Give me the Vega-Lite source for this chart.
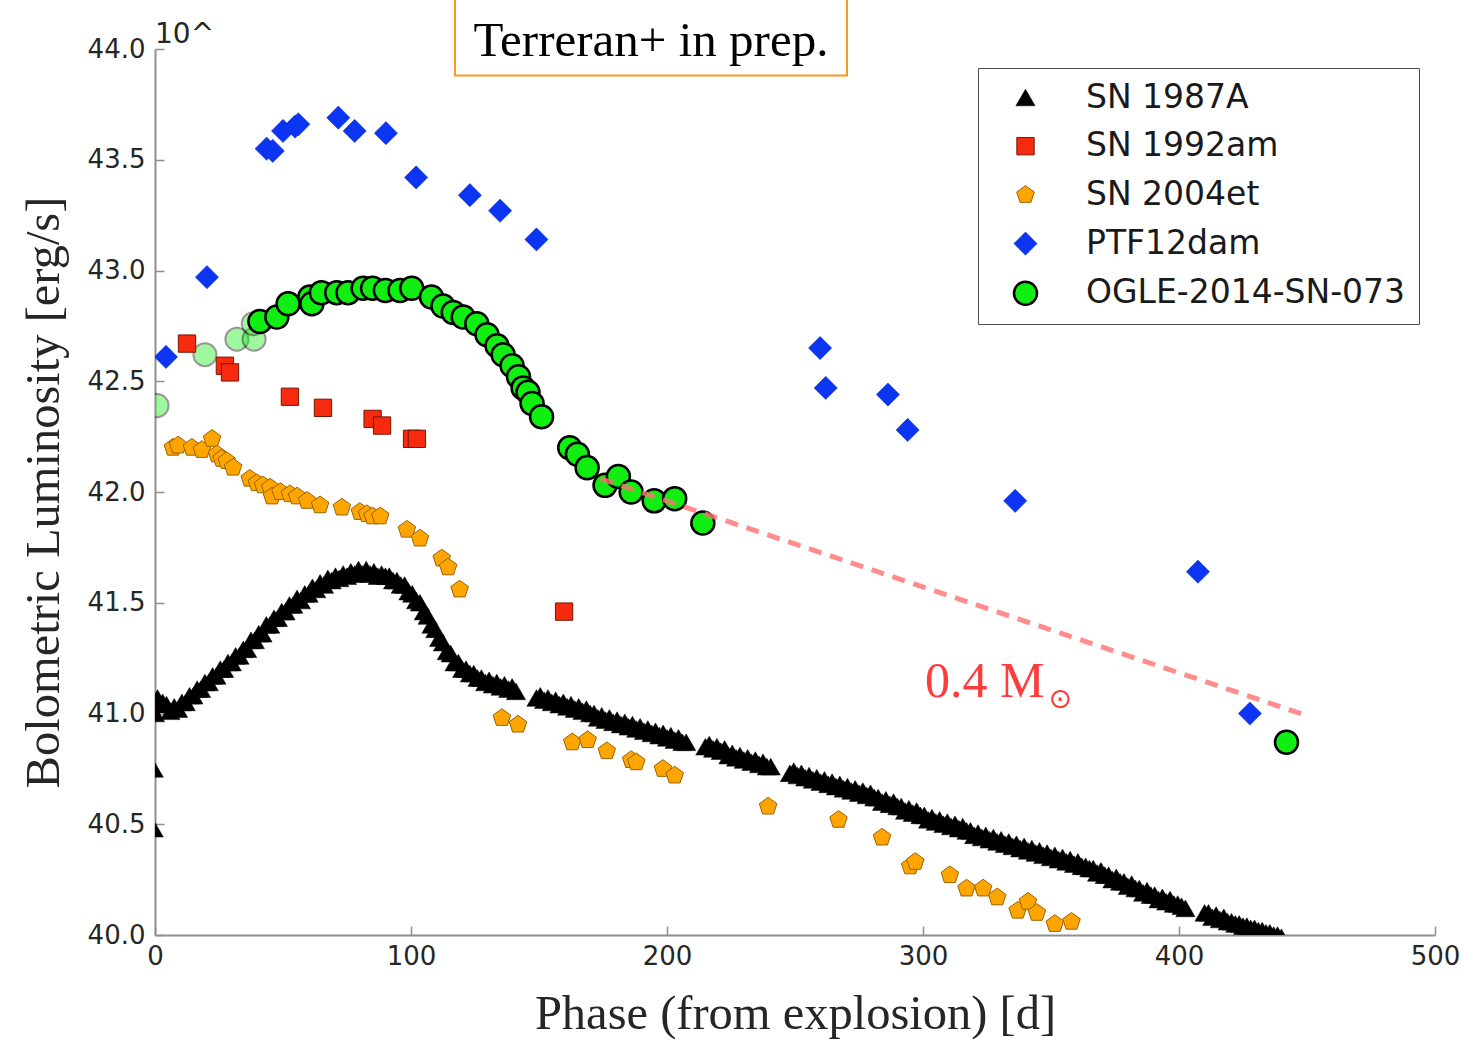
{
  "$schema": "https://vega.github.io/schema/vega-lite/v6.json",
  "width": 1280,
  "height": 886,
  "autosize": {"type": "none"},
  "padding": {"left": 155, "top": 49, "right": 30, "bottom": 107},
  "background": "white",
  "config": {
    "view": {"stroke": null},
    "axis": {
      "grid": false,
      "domainColor": "#8f8f8f",
      "domainWidth": 2,
      "tickColor": "#8f8f8f",
      "tickWidth": 1.5,
      "tickSize": -9,
      "labelFlush": false,
      "labelFont": "DejaVu Sans",
      "labelFontSize": 26,
      "labelColor": "#262626",
      "titleFont": "Liberation Serif",
      "titleFontSize": 48.5,
      "titleFontWeight": "normal",
      "titleColor": "#262626"
    }
  },
  "datasets": {
    "sn": [
      {"sn":"SN 1987A","phase":-0.5,"lum":40.75},{"sn":"SN 1987A","phase":-0.5,"lum":40.48},{"sn":"SN 1987A","phase":0,"lum":41.0},{"sn":"SN 1987A","phase":1,"lum":41.07},{"sn":"SN 1987A","phase":3,"lum":41.05},{"sn":"SN 1987A","phase":4.5,"lum":41.04},{"sn":"SN 1987A","phase":6,"lum":41.01},{"sn":"SN 1987A","phase":7.5,"lum":41.03},{"sn":"SN 1987A","phase":9,"lum":41.02},{"sn":"SN 1987A","phase":10.5,"lum":41.05},{"sn":"SN 1987A","phase":12,"lum":41.05},{"sn":"SN 1987A","phase":13.5,"lum":41.08},{"sn":"SN 1987A","phase":15,"lum":41.08},{"sn":"SN 1987A","phase":16.5,"lum":41.11},{"sn":"SN 1987A","phase":18,"lum":41.11},{"sn":"SN 1987A","phase":19.5,"lum":41.14},{"sn":"SN 1987A","phase":21,"lum":41.14},{"sn":"SN 1987A","phase":22.5,"lum":41.17},{"sn":"SN 1987A","phase":24,"lum":41.17},{"sn":"SN 1987A","phase":25.5,"lum":41.2},{"sn":"SN 1987A","phase":27,"lum":41.2},{"sn":"SN 1987A","phase":28.5,"lum":41.23},{"sn":"SN 1987A","phase":30,"lum":41.23},{"sn":"SN 1987A","phase":31.5,"lum":41.26},{"sn":"SN 1987A","phase":33,"lum":41.26},{"sn":"SN 1987A","phase":34.5,"lum":41.29},{"sn":"SN 1987A","phase":36,"lum":41.29},{"sn":"SN 1987A","phase":37.5,"lum":41.33},{"sn":"SN 1987A","phase":39,"lum":41.33},{"sn":"SN 1987A","phase":40.5,"lum":41.36},{"sn":"SN 1987A","phase":42,"lum":41.36},{"sn":"SN 1987A","phase":43.5,"lum":41.4},{"sn":"SN 1987A","phase":45,"lum":41.4},{"sn":"SN 1987A","phase":46.5,"lum":41.43},{"sn":"SN 1987A","phase":48,"lum":41.43},{"sn":"SN 1987A","phase":49.5,"lum":41.46},{"sn":"SN 1987A","phase":51,"lum":41.46},{"sn":"SN 1987A","phase":52.5,"lum":41.49},{"sn":"SN 1987A","phase":54,"lum":41.49},{"sn":"SN 1987A","phase":55.5,"lum":41.52},{"sn":"SN 1987A","phase":57,"lum":41.51},{"sn":"SN 1987A","phase":58.5,"lum":41.54},{"sn":"SN 1987A","phase":60,"lum":41.54},{"sn":"SN 1987A","phase":61.5,"lum":41.57},{"sn":"SN 1987A","phase":63,"lum":41.56},{"sn":"SN 1987A","phase":64.5,"lum":41.59},{"sn":"SN 1987A","phase":66,"lum":41.58},{"sn":"SN 1987A","phase":67.5,"lum":41.61},{"sn":"SN 1987A","phase":69,"lum":41.6},{"sn":"SN 1987A","phase":70.5,"lum":41.62},{"sn":"SN 1987A","phase":72,"lum":41.61},{"sn":"SN 1987A","phase":73.5,"lum":41.63},{"sn":"SN 1987A","phase":75,"lum":41.62},{"sn":"SN 1987A","phase":76.5,"lum":41.64},{"sn":"SN 1987A","phase":78,"lum":41.63},{"sn":"SN 1987A","phase":79.5,"lum":41.65},{"sn":"SN 1987A","phase":81,"lum":41.63},{"sn":"SN 1987A","phase":82.5,"lum":41.65},{"sn":"SN 1987A","phase":84,"lum":41.63},{"sn":"SN 1987A","phase":85.5,"lum":41.64},{"sn":"SN 1987A","phase":87,"lum":41.62},{"sn":"SN 1987A","phase":88.5,"lum":41.63},{"sn":"SN 1987A","phase":90,"lum":41.62},{"sn":"SN 1987A","phase":91.5,"lum":41.62},{"sn":"SN 1987A","phase":93,"lum":41.6},{"sn":"SN 1987A","phase":94.5,"lum":41.6},{"sn":"SN 1987A","phase":96,"lum":41.58},{"sn":"SN 1987A","phase":97.5,"lum":41.58},{"sn":"SN 1987A","phase":99,"lum":41.55},{"sn":"SN 1987A","phase":100.5,"lum":41.54},{"sn":"SN 1987A","phase":102,"lum":41.51},{"sn":"SN 1987A","phase":103.5,"lum":41.5},{"sn":"SN 1987A","phase":105,"lum":41.46},{"sn":"SN 1987A","phase":106.5,"lum":41.44},{"sn":"SN 1987A","phase":108,"lum":41.4},{"sn":"SN 1987A","phase":109.5,"lum":41.38},{"sn":"SN 1987A","phase":111,"lum":41.34},{"sn":"SN 1987A","phase":112.5,"lum":41.32},{"sn":"SN 1987A","phase":114,"lum":41.28},{"sn":"SN 1987A","phase":115.5,"lum":41.27},{"sn":"SN 1987A","phase":117,"lum":41.23},{"sn":"SN 1987A","phase":118.5,"lum":41.23},{"sn":"SN 1987A","phase":120,"lum":41.2},{"sn":"SN 1987A","phase":121.5,"lum":41.2},{"sn":"SN 1987A","phase":123,"lum":41.18},{"sn":"SN 1987A","phase":124.5,"lum":41.18},{"sn":"SN 1987A","phase":126,"lum":41.16},{"sn":"SN 1987A","phase":127.5,"lum":41.16},{"sn":"SN 1987A","phase":129,"lum":41.14},{"sn":"SN 1987A","phase":130.5,"lum":41.15},{"sn":"SN 1987A","phase":132,"lum":41.13},{"sn":"SN 1987A","phase":133.5,"lum":41.14},{"sn":"SN 1987A","phase":135,"lum":41.12},{"sn":"SN 1987A","phase":136.5,"lum":41.13},{"sn":"SN 1987A","phase":138,"lum":41.11},{"sn":"SN 1987A","phase":139.5,"lum":41.12},{"sn":"SN 1987A","phase":141,"lum":41.1},
      {"sn":"SN 1987A","phase":149,"lum":41.07},{"sn":"SN 1987A","phase":150.5,"lum":41.08},{"sn":"SN 1987A","phase":152,"lum":41.06},{"sn":"SN 1987A","phase":153.5,"lum":41.07},{"sn":"SN 1987A","phase":155,"lum":41.05},{"sn":"SN 1987A","phase":156.5,"lum":41.06},{"sn":"SN 1987A","phase":158,"lum":41.04},{"sn":"SN 1987A","phase":159.5,"lum":41.05},{"sn":"SN 1987A","phase":161,"lum":41.03},{"sn":"SN 1987A","phase":162.5,"lum":41.04},{"sn":"SN 1987A","phase":164,"lum":41.02},{"sn":"SN 1987A","phase":165.5,"lum":41.03},{"sn":"SN 1987A","phase":167,"lum":41.01},{"sn":"SN 1987A","phase":168.5,"lum":41.02},{"sn":"SN 1987A","phase":170,"lum":41.0},{"sn":"SN 1987A","phase":171.5,"lum":41.0},{"sn":"SN 1987A","phase":173,"lum":40.98},{"sn":"SN 1987A","phase":174.5,"lum":40.99},{"sn":"SN 1987A","phase":176,"lum":40.97},{"sn":"SN 1987A","phase":177.5,"lum":40.98},{"sn":"SN 1987A","phase":179,"lum":40.96},{"sn":"SN 1987A","phase":180.5,"lum":40.97},{"sn":"SN 1987A","phase":182,"lum":40.95},{"sn":"SN 1987A","phase":183.5,"lum":40.96},{"sn":"SN 1987A","phase":185,"lum":40.94},{"sn":"SN 1987A","phase":186.5,"lum":40.95},{"sn":"SN 1987A","phase":188,"lum":40.93},{"sn":"SN 1987A","phase":189.5,"lum":40.94},{"sn":"SN 1987A","phase":191,"lum":40.92},{"sn":"SN 1987A","phase":192.5,"lum":40.93},{"sn":"SN 1987A","phase":194,"lum":40.91},{"sn":"SN 1987A","phase":195.5,"lum":40.92},{"sn":"SN 1987A","phase":197,"lum":40.9},{"sn":"SN 1987A","phase":198.5,"lum":40.91},{"sn":"SN 1987A","phase":200,"lum":40.89},{"sn":"SN 1987A","phase":201.5,"lum":40.9},{"sn":"SN 1987A","phase":203,"lum":40.88},{"sn":"SN 1987A","phase":204.5,"lum":40.89},{"sn":"SN 1987A","phase":206,"lum":40.87},{"sn":"SN 1987A","phase":207.5,"lum":40.87},
      {"sn":"SN 1987A","phase":215,"lum":40.85},{"sn":"SN 1987A","phase":216.5,"lum":40.86},{"sn":"SN 1987A","phase":218,"lum":40.84},{"sn":"SN 1987A","phase":219.5,"lum":40.85},{"sn":"SN 1987A","phase":221,"lum":40.83},{"sn":"SN 1987A","phase":222.5,"lum":40.84},{"sn":"SN 1987A","phase":224,"lum":40.81},{"sn":"SN 1987A","phase":225.5,"lum":40.82},{"sn":"SN 1987A","phase":227,"lum":40.8},{"sn":"SN 1987A","phase":228.5,"lum":40.81},{"sn":"SN 1987A","phase":230,"lum":40.79},{"sn":"SN 1987A","phase":231.5,"lum":40.8},{"sn":"SN 1987A","phase":233,"lum":40.78},{"sn":"SN 1987A","phase":234.5,"lum":40.79},{"sn":"SN 1987A","phase":236,"lum":40.77},{"sn":"SN 1987A","phase":237.5,"lum":40.78},{"sn":"SN 1987A","phase":239,"lum":40.76},{"sn":"SN 1987A","phase":240.5,"lum":40.76},
      {"sn":"SN 1987A","phase":248,"lum":40.73},{"sn":"SN 1987A","phase":249.5,"lum":40.74},{"sn":"SN 1987A","phase":251,"lum":40.72},{"sn":"SN 1987A","phase":252.5,"lum":40.73},{"sn":"SN 1987A","phase":254,"lum":40.71},{"sn":"SN 1987A","phase":255.5,"lum":40.72},{"sn":"SN 1987A","phase":257,"lum":40.7},{"sn":"SN 1987A","phase":258.5,"lum":40.71},{"sn":"SN 1987A","phase":260,"lum":40.69},{"sn":"SN 1987A","phase":261.5,"lum":40.7},{"sn":"SN 1987A","phase":263,"lum":40.68},{"sn":"SN 1987A","phase":264.5,"lum":40.69},{"sn":"SN 1987A","phase":266,"lum":40.67},{"sn":"SN 1987A","phase":267.5,"lum":40.68},{"sn":"SN 1987A","phase":269,"lum":40.66},{"sn":"SN 1987A","phase":270.5,"lum":40.67},{"sn":"SN 1987A","phase":272,"lum":40.65},{"sn":"SN 1987A","phase":273.5,"lum":40.66},{"sn":"SN 1987A","phase":275,"lum":40.64},{"sn":"SN 1987A","phase":276.5,"lum":40.65},{"sn":"SN 1987A","phase":278,"lum":40.63},{"sn":"SN 1987A","phase":279.5,"lum":40.64},{"sn":"SN 1987A","phase":281,"lum":40.62},{"sn":"SN 1987A","phase":282.5,"lum":40.62},{"sn":"SN 1987A","phase":284,"lum":40.6},{"sn":"SN 1987A","phase":285.5,"lum":40.61},{"sn":"SN 1987A","phase":287,"lum":40.59},{"sn":"SN 1987A","phase":288.5,"lum":40.6},{"sn":"SN 1987A","phase":290,"lum":40.58},{"sn":"SN 1987A","phase":291.5,"lum":40.58},{"sn":"SN 1987A","phase":293,"lum":40.56},{"sn":"SN 1987A","phase":294.5,"lum":40.57},{"sn":"SN 1987A","phase":296,"lum":40.55},{"sn":"SN 1987A","phase":297.5,"lum":40.56},{"sn":"SN 1987A","phase":299,"lum":40.54},{"sn":"SN 1987A","phase":300.5,"lum":40.54},{"sn":"SN 1987A","phase":302,"lum":40.52},{"sn":"SN 1987A","phase":303.5,"lum":40.53},{"sn":"SN 1987A","phase":305,"lum":40.51},{"sn":"SN 1987A","phase":306.5,"lum":40.52},{"sn":"SN 1987A","phase":308,"lum":40.5},{"sn":"SN 1987A","phase":309.5,"lum":40.51},{"sn":"SN 1987A","phase":311,"lum":40.49},{"sn":"SN 1987A","phase":312.5,"lum":40.5},{"sn":"SN 1987A","phase":314,"lum":40.48},{"sn":"SN 1987A","phase":315.5,"lum":40.49},{"sn":"SN 1987A","phase":317,"lum":40.47},{"sn":"SN 1987A","phase":318.5,"lum":40.47},{"sn":"SN 1987A","phase":320,"lum":40.45},{"sn":"SN 1987A","phase":321.5,"lum":40.46},{"sn":"SN 1987A","phase":323,"lum":40.44},{"sn":"SN 1987A","phase":324.5,"lum":40.45},{"sn":"SN 1987A","phase":326,"lum":40.43},{"sn":"SN 1987A","phase":327.5,"lum":40.44},{"sn":"SN 1987A","phase":329,"lum":40.42},{"sn":"SN 1987A","phase":330.5,"lum":40.43},{"sn":"SN 1987A","phase":332,"lum":40.41},{"sn":"SN 1987A","phase":333.5,"lum":40.42},{"sn":"SN 1987A","phase":335,"lum":40.4},{"sn":"SN 1987A","phase":336.5,"lum":40.41},{"sn":"SN 1987A","phase":338,"lum":40.39},{"sn":"SN 1987A","phase":339.5,"lum":40.4},{"sn":"SN 1987A","phase":341,"lum":40.38},{"sn":"SN 1987A","phase":342.5,"lum":40.39},{"sn":"SN 1987A","phase":344,"lum":40.37},{"sn":"SN 1987A","phase":345.5,"lum":40.38},{"sn":"SN 1987A","phase":347,"lum":40.36},{"sn":"SN 1987A","phase":348.5,"lum":40.37},{"sn":"SN 1987A","phase":350,"lum":40.35},{"sn":"SN 1987A","phase":351.5,"lum":40.36},{"sn":"SN 1987A","phase":353,"lum":40.34},{"sn":"SN 1987A","phase":354.5,"lum":40.35},{"sn":"SN 1987A","phase":356,"lum":40.33},{"sn":"SN 1987A","phase":357.5,"lum":40.34},{"sn":"SN 1987A","phase":359,"lum":40.32},{"sn":"SN 1987A","phase":360.5,"lum":40.33},{"sn":"SN 1987A","phase":362,"lum":40.31},{"sn":"SN 1987A","phase":363.5,"lum":40.31},{"sn":"SN 1987A","phase":365,"lum":40.3},{"sn":"SN 1987A","phase":366.5,"lum":40.3},{"sn":"SN 1987A","phase":368,"lum":40.28},{"sn":"SN 1987A","phase":369.5,"lum":40.29},{"sn":"SN 1987A","phase":371,"lum":40.27},{"sn":"SN 1987A","phase":372.5,"lum":40.27},{"sn":"SN 1987A","phase":374,"lum":40.25},{"sn":"SN 1987A","phase":375.5,"lum":40.26},{"sn":"SN 1987A","phase":377,"lum":40.24},{"sn":"SN 1987A","phase":378.5,"lum":40.24},{"sn":"SN 1987A","phase":380,"lum":40.22},{"sn":"SN 1987A","phase":381.5,"lum":40.23},{"sn":"SN 1987A","phase":383,"lum":40.21},{"sn":"SN 1987A","phase":384.5,"lum":40.21},{"sn":"SN 1987A","phase":386,"lum":40.19},{"sn":"SN 1987A","phase":387.5,"lum":40.2},{"sn":"SN 1987A","phase":389,"lum":40.18},{"sn":"SN 1987A","phase":390.5,"lum":40.18},{"sn":"SN 1987A","phase":392,"lum":40.16},{"sn":"SN 1987A","phase":393.5,"lum":40.17},{"sn":"SN 1987A","phase":395,"lum":40.15},{"sn":"SN 1987A","phase":396.5,"lum":40.16},{"sn":"SN 1987A","phase":398,"lum":40.14},{"sn":"SN 1987A","phase":399.5,"lum":40.14},{"sn":"SN 1987A","phase":401,"lum":40.13},{"sn":"SN 1987A","phase":402.5,"lum":40.12},
      {"sn":"SN 1987A","phase":410,"lum":40.1},{"sn":"SN 1987A","phase":411.5,"lum":40.1},{"sn":"SN 1987A","phase":413,"lum":40.08},{"sn":"SN 1987A","phase":414.5,"lum":40.09},{"sn":"SN 1987A","phase":416,"lum":40.07},{"sn":"SN 1987A","phase":417.5,"lum":40.08},{"sn":"SN 1987A","phase":419,"lum":40.06},{"sn":"SN 1987A","phase":420.5,"lum":40.06},{"sn":"SN 1987A","phase":422,"lum":40.05},{"sn":"SN 1987A","phase":423.5,"lum":40.05},{"sn":"SN 1987A","phase":425,"lum":40.04},{"sn":"SN 1987A","phase":426.5,"lum":40.04},{"sn":"SN 1987A","phase":428,"lum":40.03},{"sn":"SN 1987A","phase":429.5,"lum":40.03},{"sn":"SN 1987A","phase":431,"lum":40.02},{"sn":"SN 1987A","phase":432.5,"lum":40.02},{"sn":"SN 1987A","phase":434,"lum":40.01},{"sn":"SN 1987A","phase":435.5,"lum":40.01},{"sn":"SN 1987A","phase":437,"lum":40.0},{"sn":"SN 1987A","phase":438.5,"lum":40.0},{"sn":"SN 1987A","phase":440,"lum":39.99},
      {"sn":"SN 1992am","phase":12.5,"lum":42.67},{"sn":"SN 1992am","phase":27.3,"lum":42.57},{"sn":"SN 1992am","phase":29.3,"lum":42.54},{"sn":"SN 1992am","phase":52.7,"lum":42.43},{"sn":"SN 1992am","phase":65.6,"lum":42.38},{"sn":"SN 1992am","phase":85,"lum":42.33},{"sn":"SN 1992am","phase":88.7,"lum":42.3},{"sn":"SN 1992am","phase":100.4,"lum":42.24},{"sn":"SN 1992am","phase":102.3,"lum":42.24},{"sn":"SN 1992am","phase":159.8,"lum":41.46},
      {"sn":"SN 2004et","phase":7,"lum":42.2},{"sn":"SN 2004et","phase":9,"lum":42.21},{"sn":"SN 2004et","phase":14.4,"lum":42.2},{"sn":"SN 2004et","phase":18.3,"lum":42.19},{"sn":"SN 2004et","phase":22.3,"lum":42.24},{"sn":"SN 2004et","phase":24.2,"lum":42.17},{"sn":"SN 2004et","phase":26,"lum":42.15},{"sn":"SN 2004et","phase":28,"lum":42.14},{"sn":"SN 2004et","phase":30.5,"lum":42.11},{"sn":"SN 2004et","phase":37,"lum":42.06},{"sn":"SN 2004et","phase":39.8,"lum":42.04},{"sn":"SN 2004et","phase":42.2,"lum":42.03},{"sn":"SN 2004et","phase":45,"lum":42.02},{"sn":"SN 2004et","phase":45.7,"lum":41.98},{"sn":"SN 2004et","phase":49,"lum":42.0},{"sn":"SN 2004et","phase":52.7,"lum":41.99},{"sn":"SN 2004et","phase":55.5,"lum":41.98},{"sn":"SN 2004et","phase":59.4,"lum":41.96},{"sn":"SN 2004et","phase":64.5,"lum":41.94},{"sn":"SN 2004et","phase":73,"lum":41.93},{"sn":"SN 2004et","phase":80,"lum":41.91},{"sn":"SN 2004et","phase":82.8,"lum":41.9},{"sn":"SN 2004et","phase":85,"lum":41.89},{"sn":"SN 2004et","phase":88,"lum":41.89},{"sn":"SN 2004et","phase":98.4,"lum":41.83},{"sn":"SN 2004et","phase":103.5,"lum":41.79},{"sn":"SN 2004et","phase":112,"lum":41.7},{"sn":"SN 2004et","phase":114.5,"lum":41.66},{"sn":"SN 2004et","phase":119,"lum":41.56},{"sn":"SN 2004et","phase":135.5,"lum":40.98},{"sn":"SN 2004et","phase":141.8,"lum":40.95},{"sn":"SN 2004et","phase":163,"lum":40.87},{"sn":"SN 2004et","phase":169,"lum":40.88},{"sn":"SN 2004et","phase":176.5,"lum":40.83},{"sn":"SN 2004et","phase":186,"lum":40.79},{"sn":"SN 2004et","phase":188,"lum":40.78},{"sn":"SN 2004et","phase":198.4,"lum":40.75},{"sn":"SN 2004et","phase":203,"lum":40.72},{"sn":"SN 2004et","phase":239.5,"lum":40.58},{"sn":"SN 2004et","phase":267,"lum":40.52},{"sn":"SN 2004et","phase":284,"lum":40.44},{"sn":"SN 2004et","phase":295,"lum":40.31},{"sn":"SN 2004et","phase":297,"lum":40.33},{"sn":"SN 2004et","phase":310.5,"lum":40.27},{"sn":"SN 2004et","phase":317,"lum":40.21},{"sn":"SN 2004et","phase":323.5,"lum":40.21},{"sn":"SN 2004et","phase":329,"lum":40.17},{"sn":"SN 2004et","phase":337,"lum":40.11},{"sn":"SN 2004et","phase":341,"lum":40.15},{"sn":"SN 2004et","phase":344.5,"lum":40.1},{"sn":"SN 2004et","phase":351.5,"lum":40.05},{"sn":"SN 2004et","phase":358,"lum":40.06},
      {"sn":"PTF12dam","phase":4.3,"lum":42.61},{"sn":"PTF12dam","phase":20.3,"lum":42.97},{"sn":"PTF12dam","phase":43.6,"lum":43.55},{"sn":"PTF12dam","phase":46,"lum":43.54},{"sn":"PTF12dam","phase":50,"lum":43.63},{"sn":"PTF12dam","phase":54.7,"lum":43.65},{"sn":"PTF12dam","phase":56,"lum":43.66},{"sn":"PTF12dam","phase":71.6,"lum":43.69},{"sn":"PTF12dam","phase":78,"lum":43.63},{"sn":"PTF12dam","phase":90.2,"lum":43.62},{"sn":"PTF12dam","phase":102,"lum":43.42},{"sn":"PTF12dam","phase":123,"lum":43.34},{"sn":"PTF12dam","phase":134.8,"lum":43.27},{"sn":"PTF12dam","phase":149,"lum":43.14},{"sn":"PTF12dam","phase":259.8,"lum":42.65},{"sn":"PTF12dam","phase":262,"lum":42.47},{"sn":"PTF12dam","phase":286.3,"lum":42.44},{"sn":"PTF12dam","phase":294,"lum":42.28},{"sn":"PTF12dam","phase":336,"lum":41.96},{"sn":"PTF12dam","phase":407.4,"lum":41.64},{"sn":"PTF12dam","phase":427.7,"lum":41.0},
      {"sn":"OGLE-2014-SN-073","phase":41,"lum":42.77},{"sn":"OGLE-2014-SN-073","phase":47.6,"lum":42.79},{"sn":"OGLE-2014-SN-073","phase":52,"lum":42.85},{"sn":"OGLE-2014-SN-073","phase":60.5,"lum":42.88},{"sn":"OGLE-2014-SN-073","phase":61.3,"lum":42.85},{"sn":"OGLE-2014-SN-073","phase":65,"lum":42.9},{"sn":"OGLE-2014-SN-073","phase":71,"lum":42.9},{"sn":"OGLE-2014-SN-073","phase":75.4,"lum":42.9},{"sn":"OGLE-2014-SN-073","phase":81.3,"lum":42.92},{"sn":"OGLE-2014-SN-073","phase":85,"lum":42.92},{"sn":"OGLE-2014-SN-073","phase":90,"lum":42.91},{"sn":"OGLE-2014-SN-073","phase":95.7,"lum":42.91},{"sn":"OGLE-2014-SN-073","phase":100.3,"lum":42.92},{"sn":"OGLE-2014-SN-073","phase":108,"lum":42.88},{"sn":"OGLE-2014-SN-073","phase":112.5,"lum":42.84},{"sn":"OGLE-2014-SN-073","phase":116.5,"lum":42.81},{"sn":"OGLE-2014-SN-073","phase":120.4,"lum":42.79},{"sn":"OGLE-2014-SN-073","phase":125.7,"lum":42.76},{"sn":"OGLE-2014-SN-073","phase":129.7,"lum":42.71},{"sn":"OGLE-2014-SN-073","phase":133.6,"lum":42.66},{"sn":"OGLE-2014-SN-073","phase":136,"lum":42.62},{"sn":"OGLE-2014-SN-073","phase":139.5,"lum":42.57},{"sn":"OGLE-2014-SN-073","phase":142,"lum":42.52},{"sn":"OGLE-2014-SN-073","phase":143.8,"lum":42.47},{"sn":"OGLE-2014-SN-073","phase":145.7,"lum":42.45},{"sn":"OGLE-2014-SN-073","phase":147.3,"lum":42.4},{"sn":"OGLE-2014-SN-073","phase":151,"lum":42.34},{"sn":"OGLE-2014-SN-073","phase":162,"lum":42.2},{"sn":"OGLE-2014-SN-073","phase":165,"lum":42.17},{"sn":"OGLE-2014-SN-073","phase":168.8,"lum":42.11},{"sn":"OGLE-2014-SN-073","phase":175.8,"lum":42.03},{"sn":"OGLE-2014-SN-073","phase":181,"lum":42.07},{"sn":"OGLE-2014-SN-073","phase":186,"lum":42.0},{"sn":"OGLE-2014-SN-073","phase":195,"lum":41.96},{"sn":"OGLE-2014-SN-073","phase":203,"lum":41.97},{"sn":"OGLE-2014-SN-073","phase":214,"lum":41.86},{"sn":"OGLE-2014-SN-073","phase":442,"lum":40.87}
    ],
    "faded": [
      {"phase":0.8,"lum":42.39},{"phase":19.5,"lum":42.62},{"phase":32,"lum":42.69},{"phase":38.7,"lum":42.69},{"phase":38.4,"lum":42.76}
    ],
    "fit": [
      {"phase":174,"lum":42.06},{"phase":450,"lum":40.99}
    ]
  },
  "layer": [
    {
      "data": {"name": "faded"},
      "mark": {"type": "point", "shape": "circle", "filled": true, "fill": "#11ee11", "stroke": "#000000", "strokeWidth": 2, "size": 530, "opacity": 0.4, "clip": true},
      "encoding": {
        "x": {"field": "phase", "type": "quantitative"},
        "y": {"field": "lum", "type": "quantitative"}
      }
    },
    {
      "data": {"name": "sn"},
      "mark": {"type": "point", "filled": true, "opacity": 1, "clip": true},
      "encoding": {
        "x": {"field": "phase", "type": "quantitative",
          "scale": {"domain": [0, 500], "nice": false, "zero": false},
          "axis": {"title": "Phase (from explosion) [d]", "values": [0, 100, 200, 300, 400, 500], "format": "d", "labelPadding": 17, "titleX": 640, "titleY": 93, "titleBaseline": "alphabetic"}},
        "y": {"field": "lum", "type": "quantitative",
          "scale": {"domain": [40, 44], "nice": false, "zero": false},
          "axis": {"title": "Bolometric Luminosity [erg/s]", "values": [40, 40.5, 41, 41.5, 42, 42.5, 43, 43.5, 44], "format": ".1f", "labelPadding": 19, "titleX": -97, "titleY": 443, "titleAngle": 270, "titleBaseline": "alphabetic"}},
        "color": {"field": "sn", "type": "nominal",
          "scale": {"domain": ["SN 1987A", "SN 1992am", "SN 2004et", "PTF12dam", "OGLE-2014-SN-073"], "range": ["#000000", "#f52a0e", "#ffa500", "#0b35f0", "#11ee11"]},
          "legend": {"orient": "none", "legendX": 823, "legendY": 19, "title": null, "labelFont": "DejaVu Sans", "labelFontSize": 33, "labelColor": "#1a1a1a", "strokeColor": "#4d4d4d", "fillColor": "white", "padding": 13, "rowPadding": 14.7, "symbolOffset": 18, "labelOffset": 44, "labelLimit": 600}},
        "shape": {"field": "sn", "type": "nominal",
          "scale": {"domain": ["SN 1987A", "SN 1992am", "SN 2004et", "PTF12dam", "OGLE-2014-SN-073"], "range": ["triangle-up", "square", "M0,-1L0.951,-0.309L0.588,0.809L-0.588,0.809L-0.951,-0.309Z", "diamond", "circle"]}},
        "size": {"field": "sn", "type": "ordinal",
          "scale": {"type": "ordinal", "domain": ["SN 1987A", "SN 1992am", "SN 2004et", "PTF12dam", "OGLE-2014-SN-073"], "range": [370, 300, 340, 540, 530]}},
        "stroke": {"field": "sn", "type": "nominal",
          "scale": {"domain": ["SN 1987A", "SN 1992am", "SN 2004et", "PTF12dam", "OGLE-2014-SN-073"], "range": ["#000000", "#7a1500", "#9a6200", "#0a2ad0", "#000000"]}},
        "strokeWidth": {"field": "sn", "type": "ordinal",
          "scale": {"type": "ordinal", "domain": ["SN 1987A", "SN 1992am", "SN 2004et", "PTF12dam", "OGLE-2014-SN-073"], "range": [0.5, 1, 1, 0.5, 2.5]}}
      }
    },
    {
      "data": {"name": "fit"},
      "mark": {"type": "line", "color": "#ff7070", "strokeWidth": 5, "strokeDash": [13, 9], "opacity": 0.8},
      "encoding": {
        "x": {"field": "phase", "type": "quantitative"},
        "y": {"field": "lum", "type": "quantitative"}
      }
    },
    {
      "data": {"values": [{}]},
      "mark": {"type": "rect", "fill": "white", "stroke": "#f89a1c", "strokeWidth": 2},
      "encoding": {
        "x": {"datum": 117.2, "type": "quantitative"},
        "x2": {"datum": 270.3},
        "y": {"datum": 44.3, "type": "quantitative"},
        "y2": {"datum": 43.88}
      }
    },
    {
      "data": {"values": [{}]},
      "mark": {"type": "text", "font": "Liberation Serif", "fontSize": 49, "align": "center", "baseline": "alphabetic", "color": "#000000"},
      "encoding": {
        "x": {"datum": 193.75, "type": "quantitative"},
        "y": {"datum": 43.97, "type": "quantitative"},
        "text": {"value": "Terreran+ in prep."}
      }
    },
    {
      "data": {"values": [{}]},
      "mark": {"type": "text", "font": "DejaVu Sans", "fontSize": 28, "align": "left", "baseline": "alphabetic", "color": "#262626"},
      "encoding": {
        "x": {"datum": 0, "type": "quantitative"},
        "y": {"datum": 44.029, "type": "quantitative"},
        "text": {"value": "10^"}
      }
    },
    {
      "data": {"values": [{}]},
      "mark": {"type": "text", "font": "Liberation Serif", "fontSize": 50, "align": "left", "baseline": "alphabetic", "color": "#ff3b3b"},
      "encoding": {
        "x": {"datum": 300.8, "type": "quantitative"},
        "y": {"datum": 41.075, "type": "quantitative"},
        "text": {"value": "0.4 M"}
      }
    },
    {
      "data": {"values": [{}]},
      "mark": {"type": "text", "font": "DejaVu Sans", "fontSize": 28, "align": "center", "baseline": "middle", "color": "#ff3b3b"},
      "encoding": {
        "x": {"datum": 353.6, "type": "quantitative"},
        "y": {"datum": 41.06, "type": "quantitative"},
        "text": {"value": "⊙"}
      }
    }
  ]
}
